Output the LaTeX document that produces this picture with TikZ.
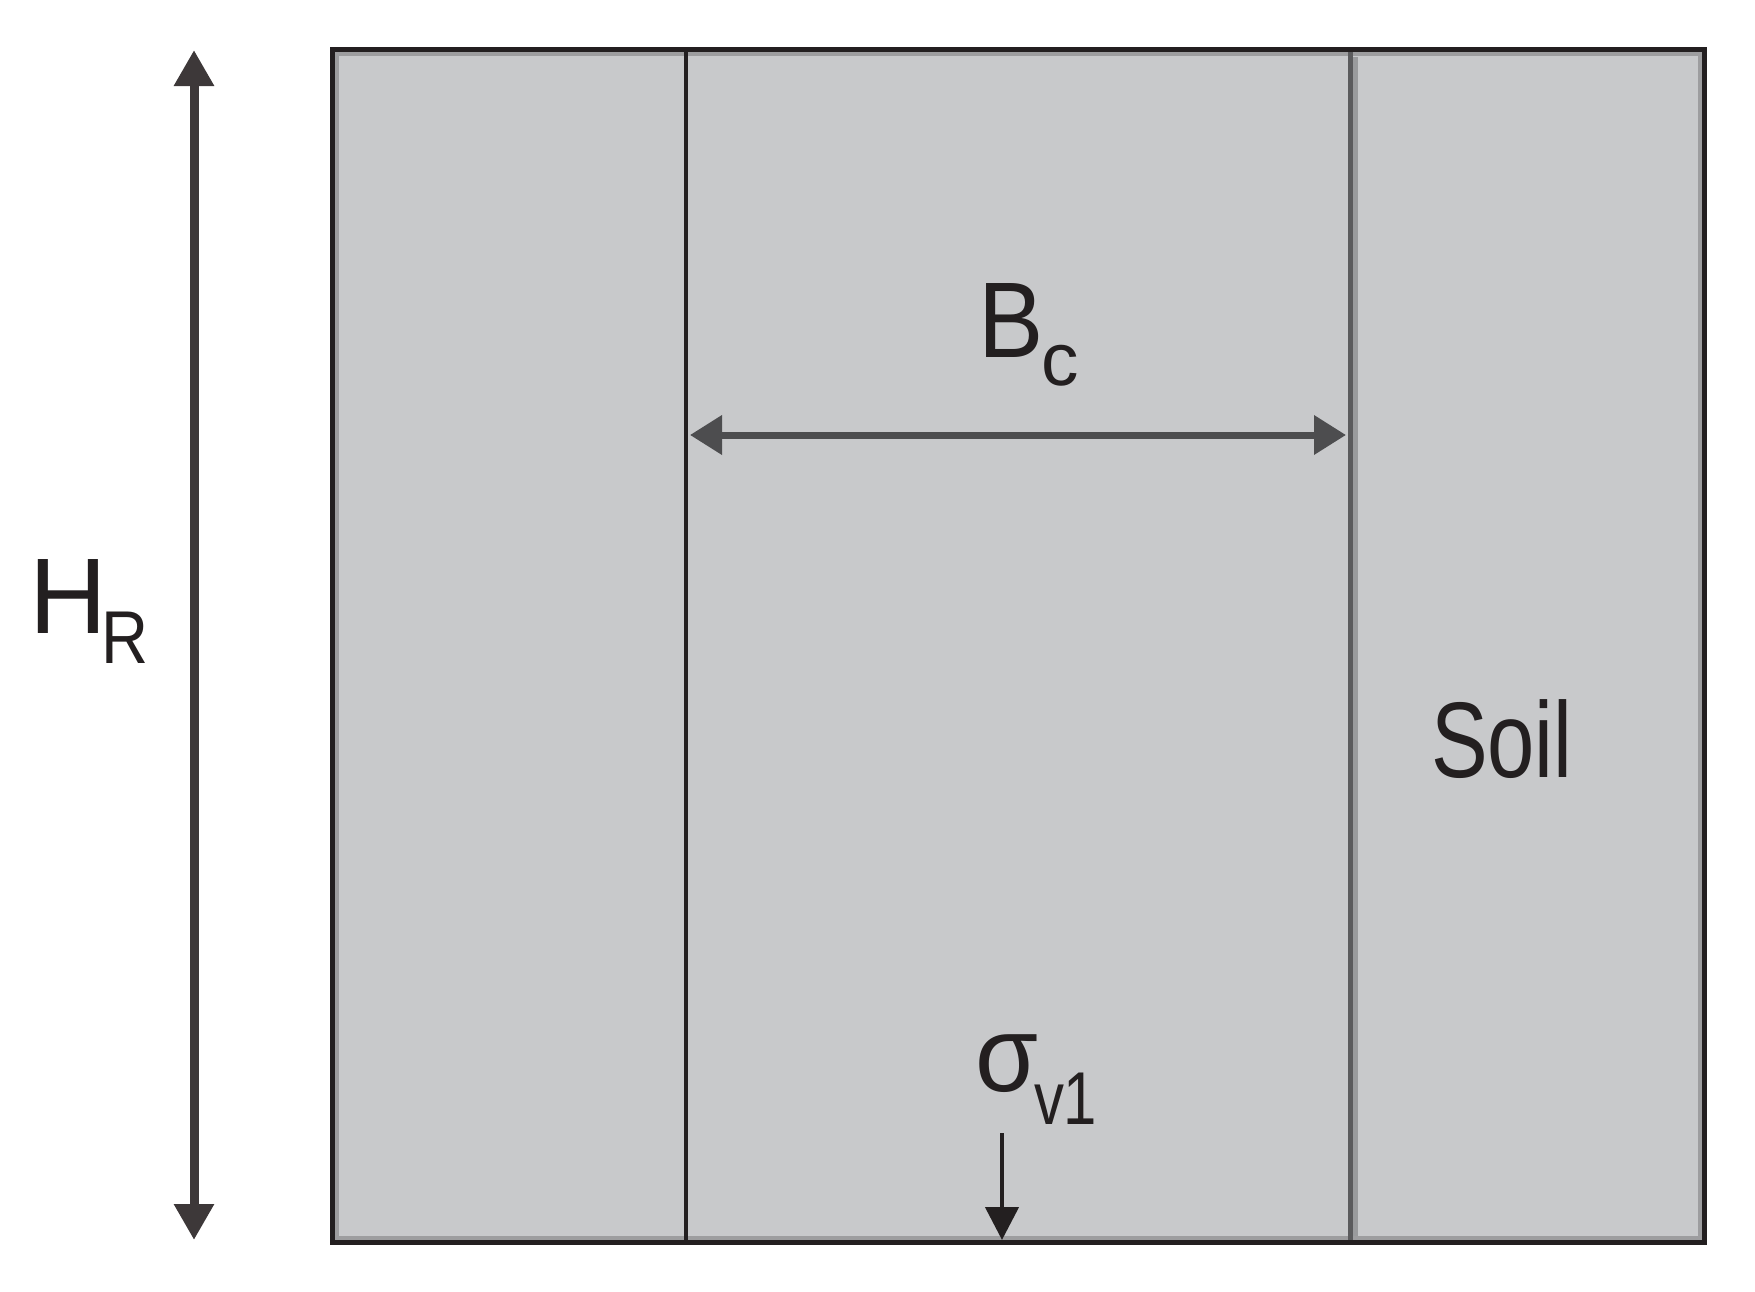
\documentclass[tikz,border=0pt]{standalone}
\usepackage{fontspec}
\setmainfont{Liberation Sans}
\usetikzlibrary{arrows.meta}
\definecolor{soilgray}{HTML}{C8C9CB}
\definecolor{ink}{HTML}{231F20}
\definecolor{bandgray}{HTML}{9D9D9F}
\definecolor{walldark}{HTML}{5B5B5D}
\definecolor{walllight}{HTML}{9A9B9D}
\definecolor{shaftgray}{HTML}{3D3839}
\definecolor{dimgray}{HTML}{4D4D4F}
\newcommand{\bigfont}{\fontsize{30.6pt}{36pt}\selectfont}
\newcommand{\subfont}{\fontsize{21.3pt}{25pt}\selectfont}
\begin{document}
\begin{tikzpicture}[x=0.1mm,y=-0.1mm,
  lbl/.style={inner sep=0pt,outer sep=0pt,anchor=base west,text=ink,font=\bigfont},
  sublbl/.style={inner sep=0pt,outer sep=0pt,anchor=base west,text=ink,font=\subfont},
  dimarrow/.style={line width=0.9mm,draw=shaftgray,{Triangle[length=3.6mm,width=3.8mm]}-{Triangle[length=3.6mm,width=3.8mm]}},
  widtharrow/.style={line width=0.7mm,draw=dimgray,{Triangle[length=3.2mm,width=3.8mm]}-{Triangle[length=3.2mm,width=3.8mm]}},
  loadarrow/.style={line width=0.45mm,draw=ink,-{Triangle[length=3.3mm,width=3.3mm]}}]
\useasboundingbox (0,0) rectangle (1755,1292);
% soil block
\coordinate (tl) at (332.5,49.5);
\coordinate (br) at (1704.5,1242.5);
\fill[soilgray] (tl) rectangle (br);
\draw[bandgray,line width=0.45mm] (337,54) rectangle (1700,1238.5);
\draw[ink,line width=0.5mm] (tl) rectangle (br);
% walls of the column
\coordinate (wlt) at (686,52);
\coordinate (wlb) at (686,1240);
\draw[ink,line width=0.4mm] (wlt) -- (wlb);
\coordinate (wrt) at (1350.5,52);
\coordinate (wrb) at (1350.5,1240);
\draw[walldark,line width=0.5mm] (wrt) -- (wrb);
\draw[walllight,line width=0.45mm] (1355.5,57) -- (1355.5,1236);
% H_R dimension
\coordinate (ht) at (194,50);
\coordinate (hb) at (194,1240);
\draw[dimarrow] (hb) -- (ht);
\node[lbl] (hlab) at (30,633) {H};
\node[sublbl] (hsub) at (101,663) {\scalebox{0.87}[1]{R}};
% B_c dimension
\coordinate (bl) at (690,435);
\coordinate (bri) at (1346,435);
\draw[widtharrow] (bl) -- (bri);
\node[lbl] (blab) at (978,357) {\scalebox{0.91}[1]{B}};
\node[sublbl] (bsub) at (1041,385) {c};
% Soil
\node[lbl] (soil) at (1431,777) {\scalebox{0.79}[1]{Soil}};
% sigma_v1 load
\coordinate (st) at (1002,1133);
\coordinate (sb) at (1002,1240);
\draw[loadarrow] (st) -- (sb);
\node[lbl] (slab) at (975,1091) {\scalebox{0.95}[1]{σ}};
\node[sublbl] (ssub) at (1034,1124) {\scalebox{0.8}[1]{v1}};
\end{tikzpicture}
\end{document}
